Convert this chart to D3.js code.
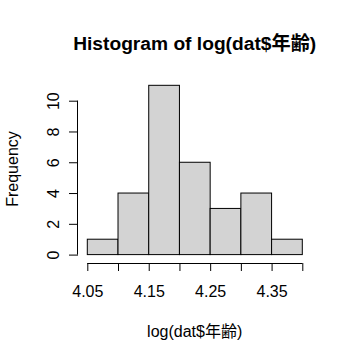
<!DOCTYPE html>
<html>
<head>
<meta charset="utf-8">
<script src="https://cdn.jsdelivr.net/npm/d3@7"></script>
<style>
  body { margin: 0; background: #fff; }
  text { font-family: "Liberation Sans", Arial, "Noto Sans CJK JP", sans-serif; }
</style>
</head>
<body>
<script>
const WIDTH = 351;
const HEIGHT = 360;

// histogram bins of log(dat$年齢)
const binStarts = [4.05, 4.10, 4.15, 4.20, 4.25, 4.30, 4.35];
const binWidth = 0.05;
const counts = [1, 4, 11, 6, 3, 4, 1];
const xTicks = [4.05, 4.10, 4.15, 4.20, 4.25, 4.30, 4.35, 4.40];
const xLabels = [4.05, 4.15, 4.25, 4.35];
const yTicks = [0, 2, 4, 6, 8, 10];

var drawGraph = function(){
	var svg = d3.select('body')
		.append('svg')
		.attr('width', WIDTH)
		.attr('height', HEIGHT);

	var xScale = d3.scaleLinear().domain([4.05, 4.40]).range([87.3, 302.3]);
	var yScale = d3.scaleLinear().domain([0, 10]).range([254.6, 100.7]);

	// bars
	svg.append('g')
		.selectAll('rect')
		.data(binStarts)
		.enter()
		.append('rect')
		.attr('x', function(d){ return xScale(d); })
		.attr('y', function(d, i){ return yScale(counts[i]); })
		.attr('width', function(d){ return xScale(d + binWidth) - xScale(d); })
		.attr('height', function(d, i){ return yScale(0) - yScale(counts[i]); })
		.attr('fill', '#d3d3d3')
		.attr('stroke', '#000')
		.attr('stroke-width', 1);

	// x axis
	var xAxis = d3.axisBottom(xScale)
		.tickValues(xTicks)
		.tickSize(8)
		.tickFormat(function(d){
			return xLabels.some(function(v){ return Math.abs(v - d) < 1e-9; }) ? d3.format('.2f')(d) : '';
		});
	var gx = svg.append('g')
		.attr('transform', 'translate(0,263)')
		.call(xAxis);
	gx.selectAll('.tick text')
		.attr('y', 34)
		.attr('dy', 0);

	// y axis
	var yAxis = d3.axisLeft(yScale)
		.tickValues(yTicks)
		.tickSize(9)
		.tickFormat(d3.format('d'));
	var gy = svg.append('g')
		.attr('transform', 'translate(78,0)')
		.call(yAxis);
	gy.selectAll('.tick text')
		.attr('x', 0)
		.attr('dy', 0)
		.attr('text-anchor', 'middle')
		.attr('transform', 'translate(-19.5,0) rotate(-90)');

	[gx, gy].forEach(function(g){
		g.select('.domain').attr('stroke', '#000').attr('stroke-width', 1);
		g.selectAll('.tick line').attr('stroke', '#000');
		g.selectAll('.tick text')
			.attr('fill', '#000')
			.style('font-size', '16px')
			.style('font-family', '"Liberation Sans", Arial, sans-serif');
	});
	gx.select('.domain').attr('d', 'M' + xScale(4.05) + ',0.5H' + xScale(4.40));
	gy.select('.domain').attr('d', 'M-0.5,' + yScale(0) + 'V' + yScale(10));

	// title and labels
	svg.append('text')
		.attr('x', 194.7)
		.attr('y', 50)
		.attr('text-anchor', 'middle')
		.style('font-size', '19.2px')
		.style('font-weight', 'bold')
		.text('Histogram of log(dat$年齢)');

	svg.append('text')
		.attr('x', 194.7)
		.attr('y', 337)
		.attr('text-anchor', 'middle')
		.style('font-size', '16px')
		.text('log(dat$年齢)');

	svg.append('text')
		.attr('transform', 'translate(18.3,169) rotate(-90)')
		.attr('text-anchor', 'middle')
		.style('font-size', '16px')
		.text('Frequency');
}

window.onload = function(){
	drawGraph();
}
</script>
</body>
</html>
